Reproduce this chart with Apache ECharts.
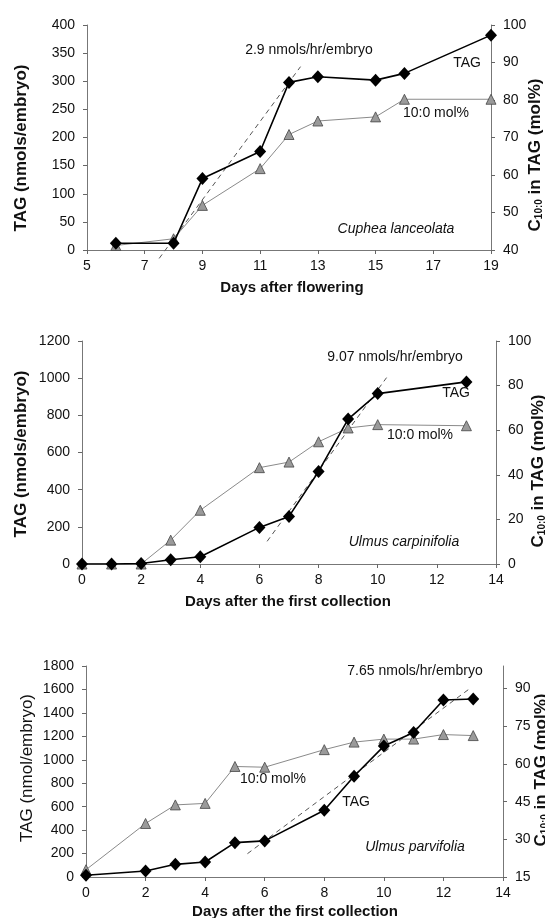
<!DOCTYPE html>
<html>
<head>
<meta charset="utf-8">
<script src="https://cdn.jsdelivr.net/npm/echarts@6/dist/echarts.min.js"></script>
<style>
  html, body { margin: 0; padding: 0; background: #fff; }
  #main { width: 545px; height: 918px; }
</style>
</head>
<body>
<div id="main"></div>
<script>
var chart = echarts.init(document.getElementById('main'));

// Cuphea lanceolata
var days1 = [6, 8, 9, 11, 12, 13, 15, 16, 19];
var tag1 = [12, 12, 127, 175, 298, 308, 302, 314, 382];
var mol1 = [41.2, 43, 51.9, 61.7, 70.8, 74.4, 75.5, 80.2, 80.2];
var fitX1 = [7.5, 12.4];
var fitY1 = [-15, 326];

// Ulmus carpinifolia
var days2 = [0, 1, 2, 3, 4, 6, 7, 8, 9, 10, 13];
var tag2 = [0, 0, 3, 23, 39, 197, 256, 498, 780, 917, 980];
var mol2 = [0, 0, 0, 10.7, 24.1, 43.2, 45.7, 54.8, 61, 62.5, 62];
var fitX2 = [6.26, 10.3];
var fitY2 = [122, 1003];

// Ulmus parvifolia
var days3 = [0, 2, 3, 4, 5, 6, 8, 9, 10, 11, 12, 13];
var tag3 = [15, 51, 108, 128, 293, 308, 570, 860, 1117, 1233, 1510, 1518];
var mol3 = [17.9, 36.3, 43.7, 44.3, 59, 58.7, 65.7, 68.7, 69.9, 69.9, 71.7, 71.3];
var fitX3 = [5.42, 12.85];
var fitY3 = [199, 1601];

var FONT = "'Liberation Sans', Arial, sans-serif";

function pairs(xs, ys) {
    var out = [];
    for (var i = 0; i < xs.length; i++) out.push([xs[i], ys[i]]);
    return out;
}
function plain(v) { return String(v); }

var lineStyleAxis = { show: true, lineStyle: { color: '#777', width: 1 } };
var tickStyle = { show: true, length: 4, lineStyle: { color: '#666' } };

function xAx(grid, min, max, step) {
    return {
        type: 'value', gridIndex: grid, min: min, max: max, interval: step,
        axisLine: lineStyleAxis, axisTick: tickStyle, splitLine: { show: false },
        axisLabel: { color: '#111', fontSize: 14, fontFamily: FONT, margin: 9, formatter: plain }
    };
}
function yAx(grid, pos, min, max, step) {
    return {
        type: 'value', gridIndex: grid, position: pos, min: min, max: max, interval: step,
        axisLine: lineStyleAxis, axisTick: tickStyle, splitLine: { show: false },
        axisLabel: {
            color: '#111', fontSize: 14, fontFamily: FONT, margin: 12,
            showMaxLabel: max % step === 0, formatter: plain
        }
    };
}

function tagSeries(idx, xs, ys) {
    return {
        type: 'line', xAxisIndex: idx, yAxisIndex: idx * 2, data: pairs(xs, ys),
        symbol: 'diamond', symbolSize: [12, 13], z: 5,
        itemStyle: { color: '#000' }, lineStyle: { color: '#000', width: 1.6 }
    };
}
function molSeries(idx, xs, ys) {
    return {
        type: 'line', xAxisIndex: idx, yAxisIndex: idx * 2 + 1, data: pairs(xs, ys),
        symbol: 'triangle', symbolSize: 10, z: 4,
        itemStyle: { color: '#9a9a9a', borderColor: '#444', borderWidth: 0.8 },
        lineStyle: { color: '#8a8a8a', width: 1 }
    };
}
function fitSeries(idx, xs, ys) {
    return {
        type: 'line', xAxisIndex: idx, yAxisIndex: idx * 2, data: pairs(xs, ys),
        symbol: 'none', clip: false, z: 3,
        lineStyle: { color: '#555', width: 1, type: [5, 4] }
    };
}

function txt(x, y, s, opt) {
    opt = opt || {};
    return {
        type: 'text', x: x, y: y, rotation: opt.rot || 0, z: 10,
        style: {
            text: s, fill: '#111', textAlign: 'center', textVerticalAlign: 'middle',
            font: (opt.italic ? 'italic ' : '') + (opt.bold ? 'bold ' : '') + (opt.size || 14) + 'px ' + FONT,
            rich: opt.rich
        }
    };
}
var subRich = {
    b: { fontSize: 17, fontWeight: 'bold', fontFamily: FONT, fill: '#111', lineHeight: 20, verticalAlign: 'bottom' },
    s: { fontSize: 10, fontWeight: 'bold', fontFamily: FONT, fill: '#111', lineHeight: 20, verticalAlign: 'bottom' }
};
var rightName = '{b|C}{s|10:0}{b| in TAG (mol%)}';

chart.setOption({
    backgroundColor: '#fff',
    animation: false,
    grid: [
        { left: 87, top: 25, width: 404, height: 225 },
        { left: 82, top: 341, width: 414, height: 223 },
        { left: 86, top: 666, width: 417, height: 211 }
    ],
    xAxis: [
        xAx(0, 5, 19, 2),
        xAx(1, 0, 14, 2),
        xAx(2, 0, 14, 2)
    ],
    yAxis: [
        yAx(0, 'left', 0, 400, 50),
        yAx(0, 'right', 40, 100, 10),
        yAx(1, 'left', 0, 1200, 200),
        yAx(1, 'right', 0, 100, 20),
        yAx(2, 'left', 0, 1800, 200),
        yAx(2, 'right', 15, 99, 15)
    ],
    series: [
        fitSeries(0, fitX1, fitY1), molSeries(0, days1, mol1), tagSeries(0, days1, tag1),
        fitSeries(1, fitX2, fitY2), molSeries(1, days2, mol2), tagSeries(1, days2, tag2),
        fitSeries(2, fitX3, fitY3), molSeries(2, days3, mol3), tagSeries(2, days3, tag3)
    ],
    graphic: [
        txt(309, 50, '2.9 nmols/hr/embryo'),
        txt(467, 63, 'TAG'),
        txt(436, 113, '10:0 mol%'),
        txt(396, 229, 'Cuphea lanceolata', { italic: true }),
        txt(21, 148, 'TAG (nmols/embryo)', { bold: true, size: 17, rot: Math.PI / 2 }),
        txt(534, 155, rightName, { rot: Math.PI / 2, rich: subRich }),
        txt(292, 288, 'Days after flowering', { bold: true, size: 15 }),

        txt(395, 357, '9.07 nmols/hr/embryo'),
        txt(456, 393, 'TAG'),
        txt(420, 435, '10:0 mol%'),
        txt(404, 542, 'Ulmus carpinifolia', { italic: true }),
        txt(21, 454, 'TAG (nmols/embryo)', { bold: true, size: 17, rot: Math.PI / 2 }),
        txt(537, 471, rightName, { rot: Math.PI / 2, rich: subRich }),
        txt(288, 602, 'Days after the first collection', { bold: true, size: 15 }),

        txt(415, 671, '7.65 nmols/hr/embryo'),
        txt(273, 779, '10:0 mol%'),
        txt(356, 802, 'TAG'),
        txt(415, 847, 'Ulmus parvifolia', { italic: true }),
        txt(27, 768, 'TAG (nmol/embryo)', { size: 17, rot: Math.PI / 2 }),
        txt(540, 770, rightName, { rot: Math.PI / 2, rich: subRich }),
        txt(295, 912, 'Days after the first collection', { bold: true, size: 15 })
    ]
});
</script>
</body>
</html>
